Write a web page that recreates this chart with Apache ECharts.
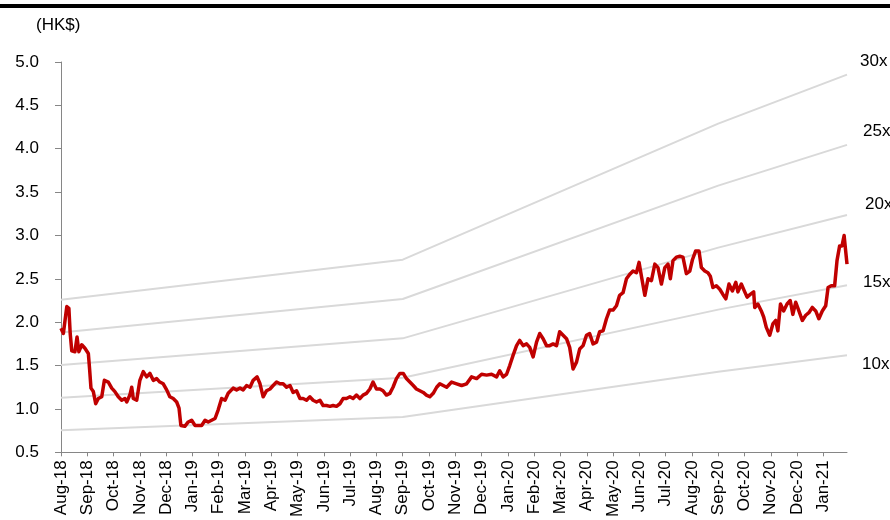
<!DOCTYPE html>
<html><head><meta charset="utf-8">
<script src="https://cdn.jsdelivr.net/npm/echarts@6/dist/echarts.min.js"></script>
<style>html,body{margin:0;padding:0;background:#fff}#c{width:890px;height:520px}</style>
</head><body><div id="c"></div>
<script>
const monthLabels = ['Aug-18','Sep-18','Oct-18','Nov-18','Dec-18','Jan-19','Feb-19','Mar-19','Apr-19','May-19','Jun-19','Jul-19','Aug-19','Sep-19','Oct-19','Nov-19','Dec-19','Jan-20','Feb-20','Mar-20','Apr-20','May-20','Jun-20','Jul-20','Aug-20','Sep-20','Oct-20','Nov-20','Dec-20','Jan-21'];
const yTicks = [0.5,1.0,1.5,2.0,2.5,3.0,3.5,4.0,4.5,5.0];
// price: months elapsed since Aug-18 tick, and price (HK$)
const priceM = [0,0.09,0.22,0.30,0.35,0.41,0.53,0.61,0.68,0.79,0.91,1.04,1.09,1.14,1.23,1.32,1.42,1.55,1.65,1.80,1.93,2.05,2.18,2.31,2.43,2.50,2.62,2.69,2.75,2.88,3.00,3.13,3.26,3.38,3.51,3.64,3.76,3.89,4.02,4.14,4.27,4.40,4.49,4.56,4.71,4.84,4.97,5.10,5.22,5.35,5.48,5.60,5.73,5.86,5.98,6.11,6.24,6.36,6.55,6.68,6.81,6.93,7.06,7.19,7.31,7.46,7.57,7.69,7.82,7.95,8.07,8.20,8.33,8.45,8.58,8.71,8.83,8.96,9.09,9.21,9.34,9.47,9.59,9.72,9.85,9.97,10.10,10.23,10.35,10.48,10.61,10.73,10.86,10.99,11.11,11.24,11.37,11.49,11.62,11.75,11.87,12.00,12.13,12.25,12.38,12.51,12.63,12.76,12.89,13.02,13.14,13.27,13.40,13.52,13.65,13.78,13.90,14.03,14.16,14.29,14.41,14.54,14.67,14.86,15.05,15.24,15.43,15.62,15.81,16.00,16.19,16.38,16.57,16.69,16.82,16.95,17.07,17.20,17.33,17.45,17.58,17.71,17.83,17.96,18.09,18.21,18.34,18.47,18.59,18.72,18.85,18.97,19.10,19.23,19.35,19.48,19.61,19.73,19.86,19.99,20.11,20.24,20.37,20.49,20.62,20.75,20.87,21.00,21.13,21.25,21.38,21.51,21.63,21.76,21.89,21.99,22.08,22.21,22.33,22.46,22.59,22.71,22.84,22.97,23.09,23.18,23.28,23.41,23.54,23.66,23.79,23.92,24.02,24.14,24.27,24.36,24.49,24.61,24.70,24.80,24.93,25.06,25.18,25.29,25.41,25.54,25.67,25.75,25.88,26.01,26.10,26.22,26.35,26.39,26.51,26.64,26.73,26.83,26.96,27.08,27.19,27.27,27.37,27.49,27.62,27.74,27.84,27.95,28.07,28.20,28.33,28.45,28.58,28.71,28.83,28.96,29.09,29.18,29.30,29.43,29.52,29.62,29.71,29.79,29.85,29.90];
const priceV = [1.93,1.87,2.18,2.16,1.87,1.67,1.66,1.83,1.66,1.74,1.70,1.64,1.45,1.24,1.20,1.06,1.12,1.14,1.33,1.31,1.24,1.20,1.14,1.10,1.12,1.08,1.16,1.25,1.12,1.10,1.33,1.43,1.37,1.41,1.33,1.35,1.31,1.29,1.22,1.14,1.12,1.08,1.01,0.81,0.80,0.85,0.87,0.81,0.81,0.81,0.87,0.85,0.87,0.89,0.99,1.12,1.10,1.18,1.24,1.22,1.24,1.22,1.27,1.25,1.33,1.37,1.29,1.14,1.21,1.23,1.27,1.31,1.29,1.29,1.25,1.27,1.19,1.21,1.12,1.12,1.10,1.14,1.10,1.08,1.10,1.04,1.04,1.03,1.04,1.03,1.06,1.12,1.12,1.14,1.12,1.16,1.12,1.16,1.18,1.23,1.31,1.23,1.23,1.21,1.16,1.18,1.25,1.35,1.41,1.41,1.35,1.31,1.27,1.23,1.21,1.19,1.16,1.14,1.18,1.25,1.29,1.27,1.25,1.31,1.29,1.27,1.29,1.37,1.35,1.40,1.39,1.40,1.37,1.44,1.37,1.40,1.50,1.62,1.73,1.79,1.73,1.75,1.71,1.60,1.77,1.87,1.81,1.73,1.73,1.75,1.73,1.89,1.85,1.81,1.71,1.46,1.54,1.69,1.73,1.85,1.87,1.75,1.77,1.89,1.90,2.04,2.14,2.14,2.19,2.31,2.34,2.50,2.55,2.59,2.57,2.69,2.53,2.31,2.50,2.48,2.67,2.63,2.44,2.63,2.67,2.50,2.71,2.75,2.76,2.75,2.56,2.59,2.72,2.82,2.82,2.63,2.59,2.57,2.53,2.40,2.42,2.38,2.32,2.27,2.44,2.36,2.46,2.35,2.44,2.35,2.29,2.32,2.35,2.17,2.21,2.13,2.06,1.94,1.85,1.98,2.02,1.90,2.21,2.13,2.21,2.25,2.09,2.23,2.13,2.02,2.08,2.11,2.17,2.13,2.04,2.13,2.19,2.40,2.42,2.42,2.71,2.88,2.88,3.00,2.82,2.67];
// PE bands: EPS path (HK$) at breakpoints, and multiples
const epsM = [0, 13, 25, 29.9];
const epsV = [0.0753, 0.0907, 0.1430, 0.1618];
const multiples = [10, 15, 20, 25, 30];
const bandLabels = ['10x','15x','20x','25x','30x'];
const labelOffsets = [[7,9],[8,-3],[10,-11],[8,-14],[5,-13]];

const FONT = 'Liberation Sans, Arial, sans-serif';
const FS = 17;
const chart = echarts.init(document.getElementById('c'), null, {renderer:'canvas'});
const bandSeries = multiples.map((k, j) => ({
  type: 'line', name: bandLabels[j], symbol: 'none', silent: true,
  data: epsM.map((m, i) => [m, +(epsV[i] * k).toFixed(4)]),
  lineStyle: {color: '#d9d9d9', width: 2},
  endLabel: {show: true, formatter: bandLabels[j], color: '#000', fontSize: FS, fontFamily: FONT, offset: labelOffsets[j]},
  z: 1
}));
chart.setOption({
  animation: false,
  grid: {left: 61, right: 43, top: 62, bottom: 66, containLabel: false},
  xAxis: {
    type: 'value', min: 0, max: 29.9, interval: 1,
    splitLine: {show: false},
    axisLine: {lineStyle: {color: '#868686', width: 1}},
    axisTick: {show: true, length: 4, lineStyle: {color: '#868686'}, customValues: monthLabels.map((_, i) => i)},
    axisLabel: {rotate: 90, margin: 8, color: '#000', fontSize: FS, fontFamily: FONT,
      customValues: monthLabels.map((_, i) => i),
      formatter: v => monthLabels[Math.round(v)] || ''}
  },
  yAxis: {
    type: 'value', min: 0.5, max: 5, interval: 0.5,
    splitLine: {show: false},
    axisLine: {show: true, lineStyle: {color: '#868686', width: 1}},
    axisTick: {show: true, length: 6, lineStyle: {color: '#868686'}},
    axisLabel: {margin: 22, color: '#000', fontSize: FS, fontFamily: FONT, formatter: v => v.toFixed(1)}
  },
  graphic: [
    {type: 'rect', left: 0, top: 4, shape: {width: 890, height: 4}, style: {fill: '#000'}},
    {type: 'text', left: 36, top: 17, style: {text: '(HK$)', fill: '#000', fontSize: FS, fontFamily: FONT}}
  ],
  series: bandSeries.concat([{
    type: 'line', name: 'Price', symbol: 'none', z: 5,
    data: priceM.map((m, i) => [m, priceV[i]]),
    lineStyle: {color: '#c00000', width: 3.5, join: 'round'}
  }])
});
</script></body></html>
